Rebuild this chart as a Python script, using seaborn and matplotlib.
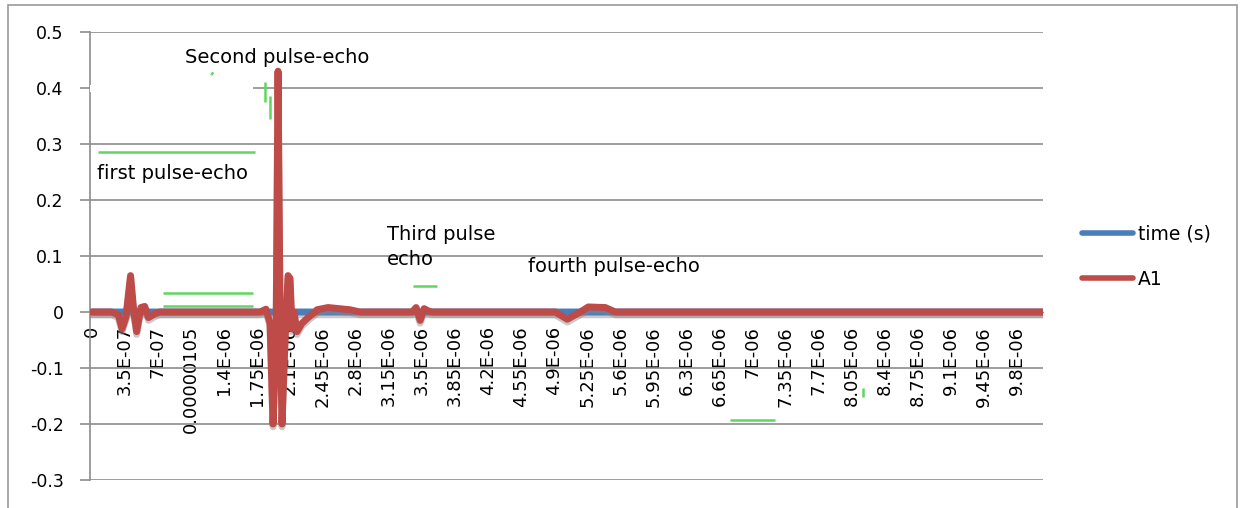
import matplotlib
matplotlib.use('Agg')
import matplotlib.pyplot as plt
import matplotlib.patheffects as pe
from matplotlib.patches import Rectangle
import seaborn as sns
import pandas as pd

sns.set_style('white')
plt.rcParams['font.family'] = ['DejaVu Sans']
plt.rcParams['text.color'] = 'black'
plt.rcParams['xtick.labelcolor'] = 'black'
plt.rcParams['ytick.labelcolor'] = 'black'

# pulse-echo signal, time in ns and amplitude A1
t_ns = [0, 210, 280, 320, 360, 410, 445, 475, 520, 560, 600, 670, 720,
        1782, 1845, 1888, 1920, 1952, 1973, 1994, 2015, 2047, 2079, 2100,
        2121, 2142, 2174, 2227, 2291, 2365, 2386, 2503, 2736, 2842,
        3394, 3436, 3479, 3521, 3564, 3606,
        4911, 5038, 5176, 5261, 5441, 5547, 10080]
a1 = [0, 0, -0.005, -0.03, -0.01, 0.065, 0.0, -0.035, 0.008, 0.01, -0.01, -0.003, 0,
      0, 0.005, -0.02, -0.2, -0.05, 0.43, 0.0, -0.2, -0.05, 0.065, 0.06,
      -0.03, 0.0, -0.035, -0.02, -0.01, 0.0, 0.004, 0.008, 0.004, 0,
      0, 0.008, -0.015, 0.006, 0.002, 0,
      0, -0.013, 0.0, 0.009, 0.008, 0, 0]

x_tick_labels = ['0', '3.5E-07', '7E-07', '0.00000105', '1.4E-06', '1.75E-06',
                 '2.1E-06', '2.45E-06', '2.8E-06', '3.15E-06', '3.5E-06',
                 '3.85E-06', '4.2E-06', '4.55E-06', '4.9E-06', '5.25E-06',
                 '5.6E-06', '5.95E-06', '6.3E-06', '6.65E-06', '7E-06',
                 '7.35E-06', '7.7E-06', '8.05E-06', '8.4E-06', '8.75E-06',
                 '9.1E-06', '9.45E-06', '9.8E-06']
y_ticks = [-0.3, -0.2, -0.1, 0, 0.1, 0.2, 0.3, 0.4, 0.5]
y_tick_labels = ['-0.3', '-0.2', '-0.1', '0', '0.1', '0.2', '0.3', '0.4', '0.5']

# hand-made notes on the chart (text, time ns, y)
note_text = ['Second pulse-echo', 'first pulse-echo', 'Third pulse\necho', 'fourth pulse-echo']
note_t_ns = [986, 53, 3129, 4624]
note_y = [0.454, 0.248, 0.116, 0.082]

# green marker strokes left on the picture (t0, t1 in ns, y0, y1)
green_t0 = [64, 753, 753, 3405, 6767, 1835, 1888, 1265, 8167]
green_t1 = [1728, 1708, 1708, 3660, 7244, 1835, 1888, 1285, 8167]
green_y0 = [0.286, 0.0345, 0.011, 0.047, -0.193, 0.41, 0.385, 0.423, -0.136]
green_y1 = [0.286, 0.0345, 0.011, 0.047, -0.193, 0.375, 0.345, 0.428, -0.152]

BLUE = '#4A7EBB'
RED = '#BE4B48'
GRID = '#8C8C8C'

df = pd.DataFrame({'t': [v * 1e-9 for v in t_ns], 'A1': a1})
df['time (s)'] = df['t']

fig = plt.figure(figsize=(12.41, 5.08), dpi=100)
ax = fig.add_axes([0.0725, 0.0551, 0.768, 0.8819])

shadow = [pe.SimpleLineShadow(offset=(0, -2), shadow_color='#888888', alpha=0.45), pe.Normal()]
sns.lineplot(data=df, x='t', y='time (s)', ax=ax, color=BLUE, lw=5, label='time (s)',
             estimator=None, sort=False, zorder=4, path_effects=shadow)
sns.lineplot(data=df, x='t', y='A1', ax=ax, color=RED, lw=5, label='A1',
             estimator=None, sort=False, zorder=5, path_effects=shadow)

for a, b, c, d in zip(green_t0, green_t1, green_y0, green_y1):
    ax.plot([a * 1e-9, b * 1e-9], [c, d], color='#5FD65F', lw=1.8, zorder=3,
            solid_capstyle='butt')

for s, t, y in zip(note_text, note_t_ns, note_y):
    ax.text(t * 1e-9, y, s, ha='left', va='center', fontsize=14,
            linespacing=1.45, zorder=6)

# horizontal axis sits on y = 0, like the Excel chart
for side in ['top', 'right']:
    ax.spines[side].set_visible(False)
ax.spines['bottom'].set_position(('data', 0))
ax.spines['bottom'].set_color(GRID)
ax.spines['left'].set_color(GRID)
ax.spines['left'].set_linewidth(1.2)

ax.set_xlim(-2e-8, 1.008e-5)
ax.set_ylim(-0.3, 0.5)
ax.set_yticks(y_ticks)
ax.set_yticklabels(y_tick_labels, fontsize=12.5)
ax.set_xticks([float(s) for s in x_tick_labels])
ax.set_xticklabels(x_tick_labels, fontsize=13)
ax.set_xlabel('')
ax.set_ylabel('')
ax.tick_params(axis='y', length=7, width=1.2, color=GRID, pad=12, left=True)
ax.tick_params(axis='x', length=0, pad=10, labelrotation=90)

ax.yaxis.grid(True, color=GRID, lw=1.2)
ax.set_axisbelow(True)

# white patch where a text box hid the 0.4 gridline
ax.add_patch(Rectangle((-2e-8, 0.392), 1.728e-6, 0.014, facecolor='white',
                       edgecolor='none', zorder=2.8, clip_on=False))

leg = ax.legend(loc='center left', bbox_to_anchor=(1082 / 1241, 0.495),
                bbox_transform=fig.transFigure, frameon=False, fontsize=13.5,
                handlelength=2.7, handletextpad=0.3, labelspacing=1.4,
                borderpad=0, borderaxespad=0)
for h in leg.get_lines():
    h.set_linewidth(4)
    h.set_path_effects([])

fig.patches.append(Rectangle((8 / 1241, -0.01), 1229 / 1241, 0.9999 - 5 / 508 + 0.01,
                             transform=fig.transFigure, fill=False,
                             edgecolor='#9A9A9A', lw=1.2))

fig.savefig('out.png', dpi=100)
